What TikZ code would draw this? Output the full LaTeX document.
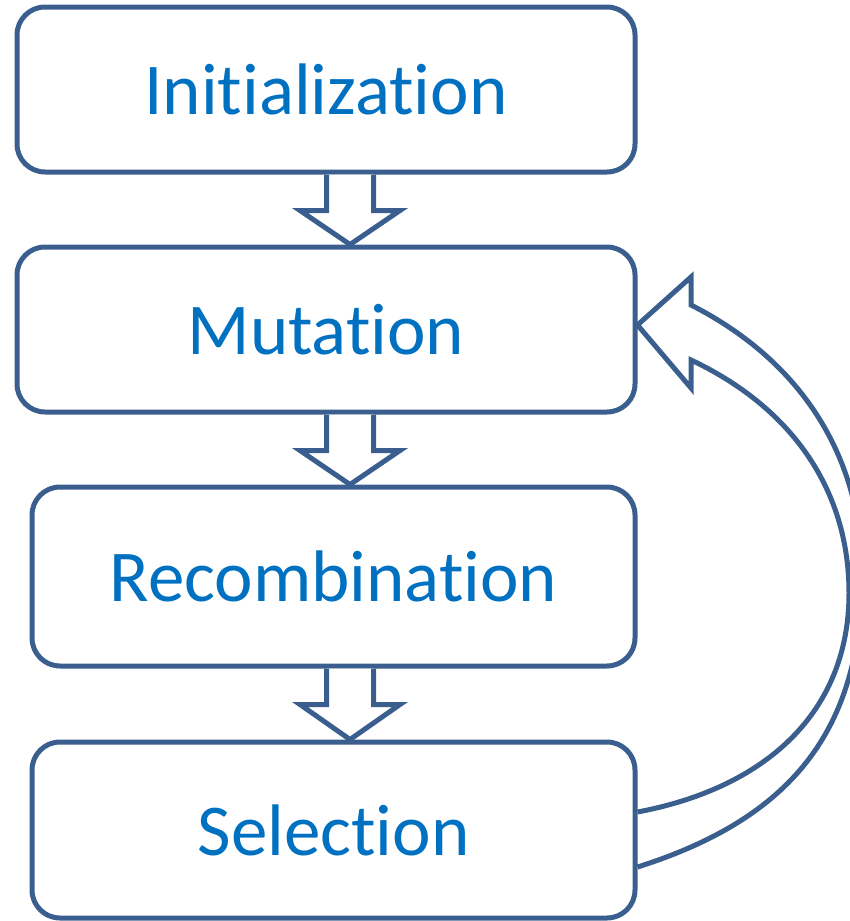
\documentclass[tikz,border=0pt]{standalone}
\usepackage{fontspec}
\setmainfont{Carlito}[Ligatures={NoCommon,NoRequired,NoContextual}]
\usetikzlibrary{calc}
\definecolor{edge}{HTML}{3A5F8E}
\definecolor{txt}{HTML}{0070C0}
\tikzset{
  stagebox/.style={draw=edge, line width=5pt, rounded corners=28pt, fill=white,
    inner sep=0pt, text=txt, font=\fontsize{73}{88}\selectfont},
  blockarrow/.style={draw=edge, line width=5pt, fill=white, line join=miter},
  loopedge/.style={draw=edge, line width=5pt, line join=miter}
}
\newcommand{\blockarr}[2]{%
  \draw[blockarrow] ($(ax |- #1.south)+(-23.5,0)$) -- ++(0,36) -- ++(-26.5,0)
    -- (ax |- #2.north) -- ($(ax |- #1.south)+(50,36)$) -- ++(-26.5,0) -- ++(0,-36);}
\begin{document}
\begin{tikzpicture}[x=1pt, y=-1pt]
\useasboundingbox (0,0) rectangle (850,921);
\clip (0,0) rectangle (850,921);
\coordinate (ax) at (350,0);
\node[stagebox, minimum width=618pt, minimum height=165pt] (init) at (326,89.5) {Initialization};
\node[stagebox, minimum width=618pt, minimum height=165pt] (mut) at (326,329.5) {Mutation};
\node[stagebox, minimum width=603pt, minimum height=179pt] (rec) at (333.5,576.5) {Recombination};
\node[stagebox, minimum width=603pt, minimum height=176pt] (sel) at (333.5,830) {Selection};
\blockarr{init}{mut}
\blockarr{mut}{rec}
\blockarr{rec}{sel}
\draw[loopedge] ($(sel.east)+(0,37)$) .. controls (799,816) and (862,723) .. (862,573)
  .. controls (862,463) and (807,364) .. (691,305) -- (691,277)
  -- ($(mut.east)+(0,-4.5)$) -- (691,388) -- (691,360)
  .. controls (795,409) and (849,493) .. (849,593)
  .. controls (849,713) and (765,788) .. ($(sel.east)+(0,-18)$);
\end{tikzpicture}
\end{document}
